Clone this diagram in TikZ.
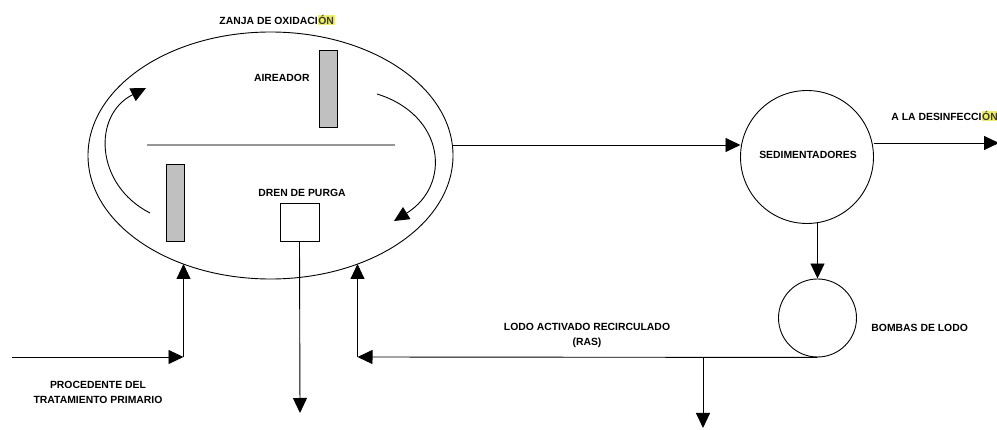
\documentclass[tikz,border=0pt]{standalone}
\usepackage{fontspec}
\setmainfont{Liberation Sans}
\usetikzlibrary{shapes.geometric,arrows.meta}
\definecolor{barfill}{RGB}{192,192,192}
\definecolor{midline}{RGB}{150,150,150}
\definecolor{hl}{RGB}{236,236,110}
\newcommand{\hlon}[1]{{\setlength{\fboxsep}{0.6pt}\colorbox{hl}{\textcolor{black!75!olive}{#1}}}}
\begin{document}
\begin{tikzpicture}[x=1pt,y=-1pt,
  line width=0.9pt,
  lbl/.style={font=\fontsize{10.4}{15}\selectfont\bfseries, inner sep=0pt, align=center},
  flow/.style={-{Triangle[length=15pt,width=14pt]}},
  bar/.style={draw, fill=barfill, minimum width=18pt, minimum height=77pt, inner sep=0pt},
  tank/.style={draw, circle, inner sep=0pt}]
\useasboundingbox (0,0) rectangle (997,430);
% oxidation ditch
\node[draw, ellipse, minimum width=365pt, minimum height=247pt, inner sep=0pt] (zanja) at (270.5,155.5) {};
\node[lbl] (tzanja) at (277,20) {ZANJA DE OXIDACI\hlon{ÓN}};
\draw[midline, line width=1.2pt] (147,145) coordinate (ml) -- (395,145) coordinate (mr);
\node[bar] (aireador) at (328,88.5) {};
\node[bar] (bar2) at (175,202.5) {};
\node[lbl, anchor=east] (taire) at (310,78) {AIREADOR};
\node[draw, fill=white, minimum width=39pt, minimum height=38pt, inner sep=0pt] (dren) at (299.5,222) {};
\node[lbl] (tdren) at (302,193) {DREN DE PURGA};
% circulation arrows
\coordinate (la) at (150,213);
\coordinate (lb) at (146,88);
\draw[flow] (la) .. controls (95,185) and (92,115) .. (lb);
\coordinate (ra) at (377,94);
\coordinate (rb) at (394,221);
\draw[flow] (ra) .. controls (445,115) and (452,185) .. (rb);
% settlers
\node[tank, minimum size=133pt] (sed) at (807,157) {};
\node[lbl] (tsed) at (808,155) {SEDIMENTADORES};
\node[tank, minimum size=78pt] (bombas) at (817.5,318) {};
\node[lbl, anchor=west] (tbom) at (871,328) {BOMBAS DE LODO};
% connections
\coordinate (zout) at (453,145);
\coordinate (sedin) at (740.5,145);
\draw[flow] (zout) -- (sedin);
\coordinate (sedout) at (873.5,143);
\coordinate (desinf) at (999,143);
\draw[flow] (sedout) -- (desinf);
\node[lbl, anchor=west] (tdes) at (891,116) {A LA DESINFECCI\hlon{ÓN}};
\coordinate (sedbot) at (817.5,222);
\draw[flow] (sedbot) -- (bombas.north);
% recirculation
\coordinate (rcorner) at (357.5,357);
\coordinate (rin) at (357.5,264);
\coordinate (split) at (703,357);
\coordinate (wasteend) at (703,428);
\draw[flow] (bombas.south) -- (rcorner);
\draw[flow] (rcorner) -- (rin);
\draw[flow] (split) -- (wasteend);
\node[lbl] (tlodo) at (587,335) {LODO ACTIVADO RECIRCULADO\\(RAS)};
% influent
\coordinate (inicio) at (12,357);
\coordinate (icorner) at (183.5,357);
\coordinate (iin) at (183.5,264);
\draw[flow] (inicio) -- (icorner);
\draw[flow] (icorner) -- (iin);
\node[lbl] (tproc) at (98,392) {PROCEDENTE DEL\\TRATAMIENTO PRIMARIO};
% purge
\coordinate (purga) at (300,413);
\draw[flow] (dren.south) -- (purga);
\end{tikzpicture}
\end{document}
